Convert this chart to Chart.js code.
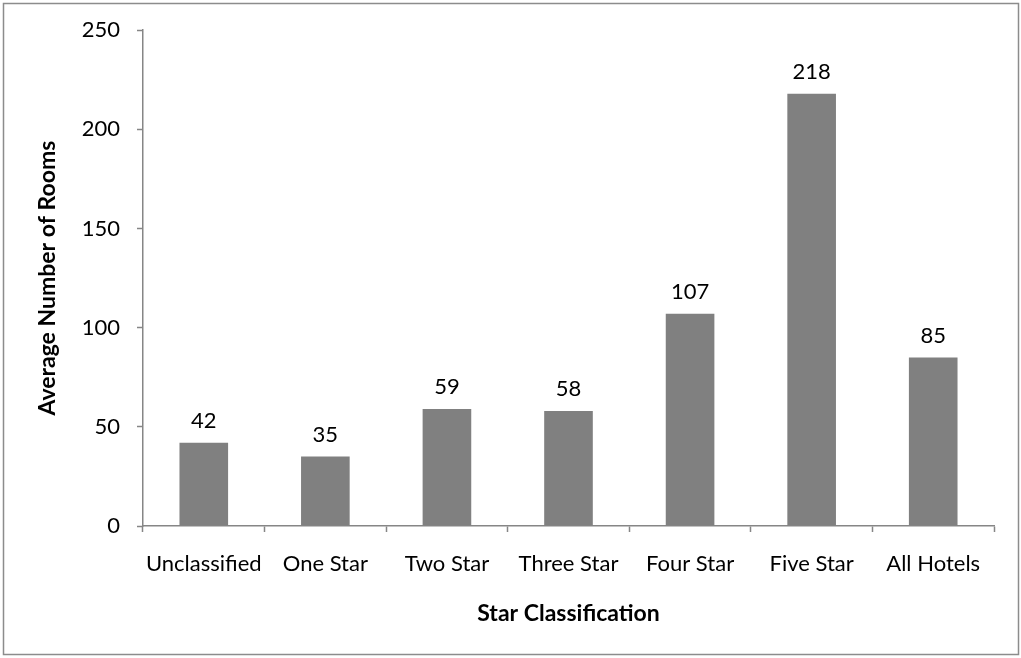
<!DOCTYPE html>
<html>
<head>
<meta charset="utf-8">
<script src="https://cdn.jsdelivr.net/npm/chart.js@4"></script>
<style>
  html, body { margin: 0; padding: 0; background: #fff; }
  #wrap { width: 1021px; height: 658px; position: relative; }
</style>
</head>
<body>
<div id="wrap"><canvas id="rooms-chart"></canvas></div>
<script>
const categories = ["Unclassified", "One Star", "Two Star", "Three Star", "Four Star", "Five Star", "All Hotels"];
const avgRooms = [42, 35, 59, 58, 107, 218, 85];
const yTicks = [0, 50, 100, 150, 200, 250];

const ctx = document.getElementById("rooms-chart");
const FONT = "Lato, 'Open Sans', sans-serif";
const AXIS = "#868686";

Chart.defaults.color = "#000";
Chart.defaults.font.family = FONT;

// frame round the whole picture + value labels over bars
const extras = {
  id: "extras",
  afterDraw(chart) {
    const c = chart.ctx;
    c.save();
    c.strokeStyle = "#8c8c8c";
    c.lineWidth = 1.5;
    c.strokeRect(3.5, 3.5, 1015, 651);

    const meta = chart.getDatasetMeta(0);
    c.fillStyle = "#000";
    c.font = "22px " + FONT;
    c.textAlign = "center";
    c.textBaseline = "bottom";
    meta.data.forEach((bar, i) => {
      c.fillText(String(avgRooms[i]), bar.x, bar.y - 11);
    });
    c.restore();
  },
};

new Chart(ctx, {
  type: "bar",
  data: {
    labels: categories,
    datasets: [
      {
        data: avgRooms,
        backgroundColor: "#808080",
        borderWidth: 0,
        barPercentage: 0.4,
        categoryPercentage: 1,
      },
    ],
  },
  options: {
    animation: false,
    responsive: true,
    maintainAspectRatio: false,
    plugins: {
      legend: false,
      tooltip: false,
    },
    layout: {
      padding: { left: 0, top: 29, right: 27, bottom: 0 },
    },
    scales: {
      y: {
        min: 0,
        max: 250,
        afterFit(scale) { scale.width = 143; },
        afterBuildTicks(scale) { scale.ticks = yTicks.map(v => ({ value: v })); },
        border: { color: AXIS, width: 1.5 },
        grid: {
          drawOnChartArea: false,
          drawTicks: true,
          tickLength: 6,
          tickColor: AXIS,
          tickWidth: 1.5,
        },
        ticks: {
          padding: 17,
          font: { size: 22 },
          color: "#000",
        },
        title: {
          display: true,
          text: "Average Number of Rooms",
          font: { size: 23, weight: "bold" },
          padding: { top: 34, bottom: 0 },
          color: "#000",
        },
      },
      x: {
        afterFit(scale) { scale.height = 132; },
        border: { color: AXIS, width: 1.5 },
        grid: {
          offset: true,
          drawOnChartArea: false,
          drawTicks: true,
          tickLength: 6,
          tickColor: AXIS,
          tickWidth: 1.5,
        },
        ticks: {
          padding: 19,
          font: { size: 22 },
          color: "#000",
          maxRotation: 0,
        },
        title: {
          display: true,
          text: "Star Classification",
          font: { size: 23, weight: "bold" },
          padding: { top: 0, bottom: 31 },
          color: "#000",
        },
      },
    },
  },
  plugins: [extras],
});
</script>
</body>
</html>
